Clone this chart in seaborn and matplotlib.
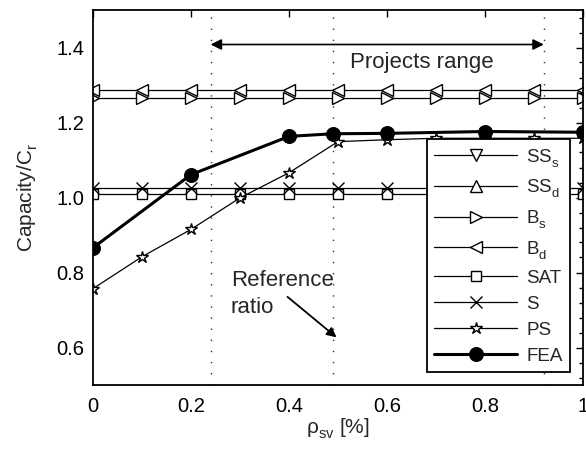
import matplotlib
matplotlib.use("Agg")
import matplotlib.pyplot as plt
from matplotlib.ticker import MultipleLocator, FixedLocator
import pandas as pd
import seaborn as sns

# Transverse reinforcement ratio (%) and normalised capacity per model
rho_sv = [0.0, 0.1, 0.2, 0.3, 0.4, 0.5, 0.6, 0.7, 0.8, 0.9, 1.0]
ss_s = [1.62] * 11
ss_d = [1.68] * 11
b_s = [1.265] * 11
b_d = [1.288] * 11
sat = [1.010] * 11
s_model = [1.026] * 11
ps = [0.757, 0.842, 0.915, 0.999, 1.066, 1.149, 1.154, 1.158, 1.158, 1.158, 1.158]

rho_fea = [0.0, 0.2, 0.4, 0.49, 0.6, 0.8, 1.0]
fea = [0.866, 1.061, 1.163, 1.170, 1.171, 1.176, 1.174]

x_ticks = [0.0, 0.2, 0.4, 0.6, 0.8, 1.0]
x_tick_labels = ["0", "0.2", "0.4", "0.6", "0.8", "1"]
y_ticks = [0.6, 0.8, 1.0, 1.2, 1.4]
y_tick_labels = ["0.6", "0.8", "1.0", "1.2", "1.4"]

range_lo, range_hi = 0.24, 0.92
ref_ratio = 0.49

sns.set_theme(style="white")
plt.rcParams["font.family"] = ["Liberation Sans", "DejaVu Sans"]
plt.rcParams["mathtext.fontset"] = "custom"
plt.rcParams["mathtext.rm"] = "Liberation Sans"
plt.rcParams["mathtext.it"] = "Liberation Sans:italic"
plt.rcParams["mathtext.default"] = "rm"

# deeper subscripts for the model labels
try:
    from matplotlib import _mathtext
    _mathtext.FontConstantsBase.sub1 = 0.5
except Exception:
    pass

FS_TICK = 14.5
FS_LABEL = 15
FS_LEG = 13.5
FS_NOTE = 16

fig = plt.figure(figsize=(5.86, 4.53), dpi=100)
ax = fig.add_axes([93 / 586, 1 - 385 / 453, (583 - 93) / 586, (385 - 10) / 453])

series = [
    ("SS$_{s}$", rho_sv, ss_s, "v", 9, 0.9),
    ("SS$_{d}$", rho_sv, ss_d, "^", 9, 0.9),
    ("B$_{s}$", rho_sv, b_s, ">", 9, 0.9),
    ("B$_{d}$", rho_sv, b_d, "<", 9, 0.9),
    ("SAT", rho_sv, sat, "s", 6.5, 0.9),
    ("S", rho_sv, s_model, "x", 9, 0.9),
    ("PS", rho_sv, ps, "*", 9, 0.9),
]

for label, xs, ys, mk, ms, lw in series:
    df = pd.DataFrame({"x": xs, "y": ys})
    sns.lineplot(data=df, x="x", y="y", ax=ax, color="black", lw=lw,
                 marker=mk, markersize=ms, markerfacecolor="white",
                 markeredgecolor="black", markeredgewidth=1.0,
                 label=label, sort=False)

df_fea = pd.DataFrame({"x": rho_fea, "y": fea})
sns.lineplot(data=df_fea, x="x", y="y", ax=ax, color="black", lw=2.2,
             marker="o", markersize=10, markerfacecolor="black",
             markeredgecolor="black", label="FEA", sort=False, zorder=5)

# Dotted guides: project range limits and reference ratio
for xv in (range_lo, ref_ratio, range_hi):
    ax.axvline(xv, color="#333333", lw=1.0, linestyle=(0, (1, 7)), zorder=1)

ax.annotate("", xy=(range_lo, 1.408), xytext=(range_hi, 1.408),
            arrowprops=dict(arrowstyle="<|-|>", color="black", lw=1.2,
                            mutation_scale=16, shrinkA=0, shrinkB=0))
ax.text(0.6705, 1.36, "Projects range", ha="center", va="center",
        fontsize=FS_NOTE)

ax.text(0.281, 0.743, "Reference\nratio", ha="left", va="center",
        fontsize=FS_NOTE, linespacing=1.35)
ax.annotate("", xy=(0.497, 0.627), xytext=(0.397, 0.735),
            arrowprops=dict(arrowstyle="-|>", color="black", lw=1.3,
                            mutation_scale=14, shrinkA=0, shrinkB=0))

ax.set_xlim(0, 1)
ax.set_ylim(0.5, 1.5)
ax.xaxis.set_major_locator(FixedLocator(x_ticks))
ax.set_xticklabels(x_tick_labels)
ax.yaxis.set_major_locator(FixedLocator(y_ticks))
ax.set_yticklabels(y_tick_labels)
ax.yaxis.set_minor_locator(MultipleLocator(0.04))
ax.tick_params(which="both", direction="in", top=True, right=True,
               colors="black", labelsize=FS_TICK)
ax.tick_params(which="major", length=5, width=1.0)
ax.tick_params(which="minor", length=3, width=1.0)
ax.tick_params(axis="x", pad=9)
ax.tick_params(axis="y", pad=6)

for sp in ax.spines.values():
    sp.set_color("black")
    sp.set_linewidth(1.3)

ax.set_xlabel(r"$\rho_{sv}$ [%]", fontsize=FS_LABEL, labelpad=0)
ax.set_ylabel("Capacity/C$_{r}$", fontsize=FS_LABEL, labelpad=12)

leg = ax.legend(loc="lower right", bbox_to_anchor=(0.973, 0.035),
                borderaxespad=0, fontsize=FS_LEG, frameon=True, fancybox=False,
                handlelength=4.4, handletextpad=0.5, labelspacing=0.47,
                borderpad=0.38)
leg.get_frame().set_edgecolor("black")
leg.get_frame().set_linewidth(1.3)
leg.get_frame().set_alpha(1.0)
leg.set_zorder(10)

fig.savefig("out.png", dpi=100)
